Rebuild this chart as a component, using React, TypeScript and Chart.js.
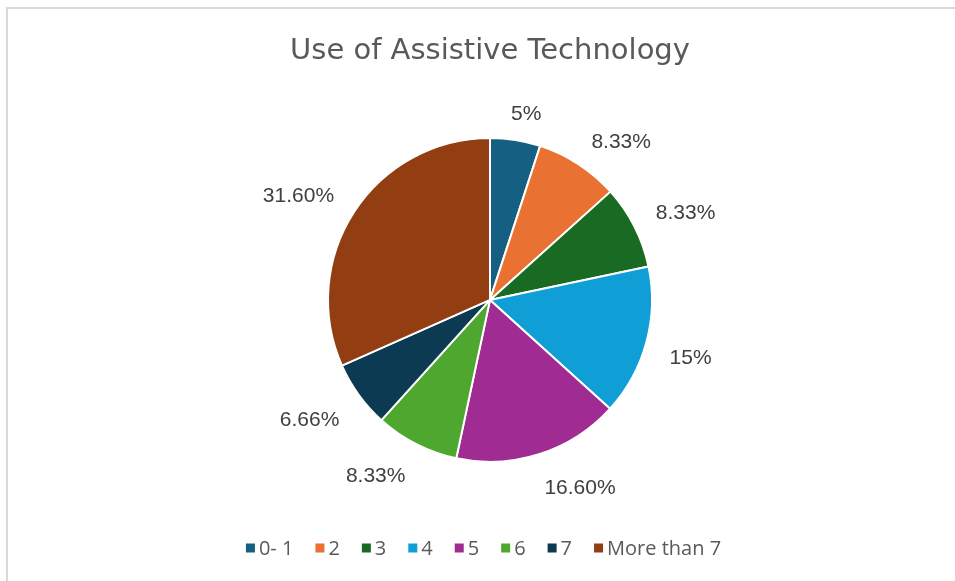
import React, { useEffect, useRef } from "react";
import { Chart, registerables } from "chart.js";

Chart.register(...registerables);

const categories = ["0- 1", "2", "3", "4", "5", "6", "7", "More than 7"];
const values = [5, 8.33, 8.33, 15, 16.6, 8.33, 6.66, 31.6];
const valueLabels = ["5%", "8.33%", "8.33%", "15%", "16.60%", "8.33%", "6.66%", "31.60%"];
const colors = ["#156082", "#E97132", "#196B24", "#0F9ED5", "#A02B93", "#4EA72E", "#0C3A52", "#923E12"];
const title = "Use of Assistive Technology";

const outsideLabels = {
  id: "outsideLabels",
  afterDatasetsDraw(chart: any) {
    const ctx = chart.ctx;
    const meta = chart.getDatasetMeta(0);
    ctx.save();
    ctx.font = "21px 'Liberation Sans', Arial, sans-serif";
    ctx.fillStyle = "#404040";
    ctx.textAlign = "center";
    ctx.textBaseline = "middle";
    meta.data.forEach((arc: any, i: number) => {
      const p = arc.getProps(["startAngle", "endAngle", "outerRadius", "x", "y"], true);
      const a = (p.startAngle + p.endAngle) / 2;
      const c = Math.cos(a);
      const s = Math.sin(a);
      const r = p.outerRadius + 24;
      const text = valueLabels[i];
      const w = ctx.measureText(text).width;
      const k = 3;
      const cl = (v: number) => Math.max(-1, Math.min(1, v));
      const x = p.x + r * c + (w / 2) * cl(c * k);
      const y = p.y + r * s + (s < 0 ? 5 : 8) * cl(s * k) + 3;
      ctx.fillText(text, x, y);
    });
    ctx.restore();
  },
};

const bottomLegend = {
  id: "bottomLegend",
  afterDraw(chart: any) {
    const ctx = chart.ctx;
    const meta = chart.getDatasetMeta(0);
    ctx.save();
    ctx.font = "20px 'Open Sans', sans-serif";
    ctx.textBaseline = "middle";
    ctx.textAlign = "left";
    const box = 9;
    const gapText = 4;
    const gapItem = 22;
    const widths = categories.map((c) => ctx.measureText(c).width);
    const total =
      widths.reduce((s, w) => s + box + gapText + w, 0) + gapItem * (categories.length - 1);
    let x = chart.width / 2 + 6 - total / 2;
    const y = 548;
    categories.forEach((c, i) => {
      const bg = (meta.data[i] as any).options.backgroundColor;
      ctx.fillStyle = bg;
      ctx.fillRect(x, y - box / 2, box, box);
      x += box + gapText;
      ctx.fillStyle = "#595959";
      ctx.fillText(c, x, y + 1);
      x += widths[i] + gapItem;
    });
    ctx.restore();
  },
};

export default function App() {
  const ref = useRef<HTMLCanvasElement>(null);
  useEffect(() => {
    document.body.style.margin = "0";
    const chart = new Chart(ref.current!, {
      type: "pie",
      data: {
        labels: categories,
        datasets: [
          {
            data: values,
            backgroundColor: colors,
            borderColor: "#ffffff",
            borderWidth: 2,
            radius: 162,
          } as any,
        ],
      },
      options: {
        animation: false,
        responsive: false,
        maintainAspectRatio: false,
        layout: { padding: { left: 25, right: 0, top: 0, bottom: 65 } },
        plugins: {
          title: {
            display: true,
            text: title,
            color: "#595959",
            font: { family: "'DejaVu Sans', sans-serif", size: 29, weight: "normal" as any },
            padding: { top: 34, bottom: 15 },
          },
          legend: { display: false },
          tooltip: { enabled: false },
        },
      },
      plugins: [outsideLabels, bottomLegend],
    });
    return () => chart.destroy();
  }, []);
  return (
    <div style={{ position: "relative", width: 955, height: 581, overflow: "hidden", background: "#fff" }}>
      <div
        style={{
          position: "absolute",
          left: 6,
          top: 7,
          width: 1100,
          height: 1100,
          border: "2px solid #d9d9d9",
        }}
      />
      <canvas ref={ref} width={955} height={581} style={{ position: "absolute", left: 0, top: 0 }} />
    </div>
  );
}
